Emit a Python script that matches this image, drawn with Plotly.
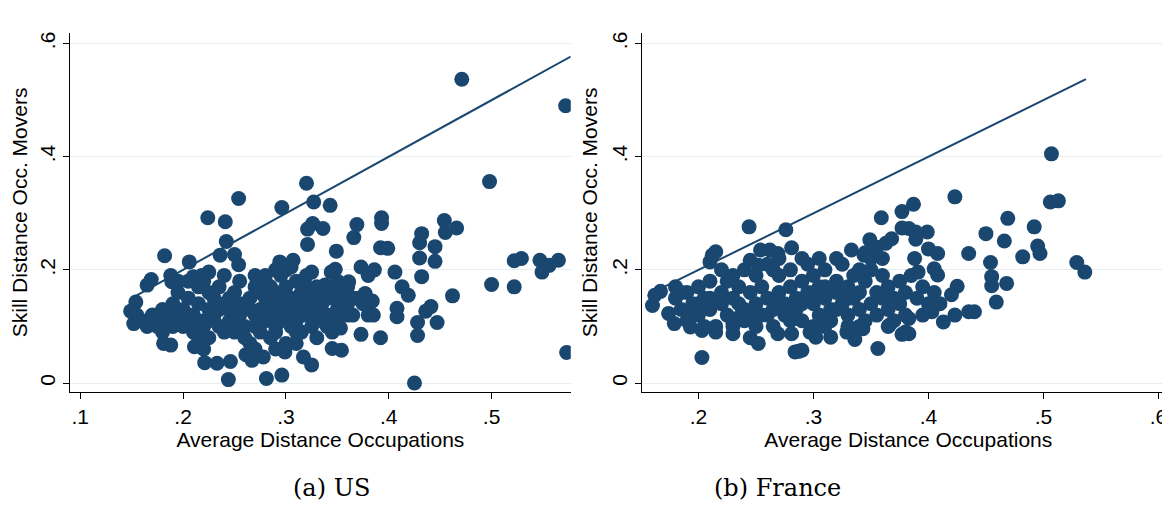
import plotly.graph_objects as go

# US panel: (average distance, skill distance of movers)
us_points = [
    (0.471, 0.537), (0.572, 0.49), (0.498, 0.356), (0.320, 0.353), (0.254, 0.326),
    (0.296, 0.310), (0.327, 0.320), (0.343, 0.314), (0.224, 0.292), (0.241, 0.285),
    (0.393, 0.292), (0.393, 0.282), (0.369, 0.280), (0.454, 0.287), (0.466, 0.274),
    (0.455, 0.266), (0.432, 0.264), (0.430, 0.248), (0.445, 0.241), (0.366, 0.257),
    (0.326, 0.282), (0.321, 0.272), (0.336, 0.273), (0.321, 0.245), (0.349, 0.233),
    (0.242, 0.250), (0.236, 0.226), (0.250, 0.227), (0.254, 0.209), (0.206, 0.214),
    (0.182, 0.225), (0.392, 0.239), (0.399, 0.238), (0.430, 0.221), (0.445, 0.215),
    (0.406, 0.196), (0.432, 0.188), (0.522, 0.216), (0.529, 0.220), (0.547, 0.217),
    (0.549, 0.196), (0.556, 0.208), (0.565, 0.217), (0.500, 0.174), (0.522, 0.170),
    (0.462, 0.154), (0.447, 0.107), (0.428, 0.107), (0.428, 0.084), (0.425, 0.000),
    (0.573, 0.054), (0.392, 0.080), (0.373, 0.086), (0.441, 0.135), (0.436, 0.127),
    (0.408, 0.132), (0.408, 0.117), (0.413, 0.170), (0.419, 0.155), (0.384, 0.145),
    (0.377, 0.158), (0.373, 0.205), (0.380, 0.190), (0.386, 0.200), (0.361, 0.179),
    (0.353, 0.097), (0.345, 0.061), (0.354, 0.058), (0.325, 0.032), (0.317, 0.046),
    (0.296, 0.014), (0.281, 0.008), (0.244, 0.006), (0.221, 0.036), (0.233, 0.035),
    (0.246, 0.038), (0.267, 0.040), (0.261, 0.050), (0.278, 0.046), (0.299, 0.055),
    (0.181, 0.070), (0.188, 0.067), (0.211, 0.064), (0.220, 0.060), (0.154, 0.143),
    (0.149, 0.127), (0.152, 0.105), (0.165, 0.173), (0.169, 0.183), (0.188, 0.190),
    (0.189, 0.179), (0.225, 0.196), (0.218, 0.190), (0.210, 0.188), (0.294, 0.214),
    (0.307, 0.217), (0.305, 0.205), (0.325, 0.196), (0.348, 0.201), (0.344, 0.196),
    (0.338, 0.173), (0.349, 0.167),
    (0.16, 0.11), (0.17, 0.12), (0.175, 0.10), (0.18, 0.13), (0.185, 0.11),
    (0.19, 0.14), (0.19, 0.12), (0.195, 0.16), (0.20, 0.10), (0.20, 0.13),
    (0.205, 0.15), (0.21, 0.12), (0.21, 0.09), (0.215, 0.17), (0.215, 0.14),
    (0.22, 0.11), (0.22, 0.18), (0.225, 0.13), (0.225, 0.08), (0.23, 0.15),
    (0.23, 0.12), (0.235, 0.10), (0.235, 0.17), (0.24, 0.14), (0.24, 0.19),
    (0.245, 0.11), (0.245, 0.13), (0.25, 0.16), (0.25, 0.09), (0.255, 0.12),
    (0.255, 0.18), (0.26, 0.14), (0.26, 0.10), (0.265, 0.15), (0.265, 0.07),
    (0.27, 0.12), (0.27, 0.17), (0.27, 0.19), (0.275, 0.13), (0.275, 0.09),
    (0.28, 0.15), (0.28, 0.11), (0.28, 0.18), (0.285, 0.12), (0.285, 0.14),
    (0.285, 0.08), (0.29, 0.16), (0.29, 0.10), (0.29, 0.13), (0.295, 0.19),
    (0.295, 0.11), (0.30, 0.14), (0.30, 0.12), (0.30, 0.17), (0.30, 0.07),
    (0.305, 0.15), (0.305, 0.10), (0.31, 0.13), (0.31, 0.18), (0.31, 0.11),
    (0.315, 0.16), (0.315, 0.09), (0.32, 0.14), (0.32, 0.12), (0.32, 0.19),
    (0.325, 0.15), (0.325, 0.10), (0.33, 0.13), (0.33, 0.17), (0.335, 0.11),
    (0.335, 0.14), (0.34, 0.16), (0.34, 0.12), (0.345, 0.09), (0.345, 0.15),
    (0.35, 0.13), (0.35, 0.11), (0.355, 0.16), (0.36, 0.12), (0.36, 0.14),
    (0.365, 0.12), (0.37, 0.15), (0.375, 0.14), (0.38, 0.12), (0.385, 0.12),
    (0.29, 0.06), (0.27, 0.06), (0.31, 0.07), (0.26, 0.08), (0.24, 0.09),
    (0.22, 0.10), (0.18, 0.09), (0.175, 0.12), (0.165, 0.10), (0.155, 0.12),
    (0.30, 0.20), (0.29, 0.20), (0.28, 0.19), (0.32, 0.17), (0.31, 0.15),
    (0.33, 0.12), (0.34, 0.10), (0.265, 0.13), (0.255, 0.14), (0.245, 0.15),
    (0.235, 0.13), (0.275, 0.16), (0.295, 0.15), (0.305, 0.13), (0.315, 0.12),
    (0.325, 0.13), (0.335, 0.16), (0.285, 0.17), (0.27, 0.10), (0.29, 0.09),
    (0.31, 0.09), (0.33, 0.08), (0.25, 0.11), (0.23, 0.11), (0.21, 0.11),
    (0.20, 0.12), (0.19, 0.10), (0.355, 0.14), (0.365, 0.15), (0.36, 0.17),
    (0.35, 0.18), (0.215, 0.08), (0.205, 0.18), (0.195, 0.18), (0.225, 0.16),
]

fr_points = [
    (0.507, 0.405), (0.506, 0.320), (0.513, 0.322), (0.423, 0.329), (0.387, 0.316),
    (0.377, 0.303), (0.359, 0.292), (0.469, 0.291), (0.492, 0.276), (0.450, 0.264),
    (0.466, 0.251), (0.495, 0.242), (0.497, 0.229), (0.435, 0.229), (0.482, 0.223),
    (0.454, 0.213), (0.529, 0.213), (0.536, 0.196), (0.455, 0.188), (0.455, 0.172),
    (0.468, 0.176), (0.459, 0.143), (0.435, 0.126), (0.440, 0.126), (0.423, 0.120),
    (0.413, 0.108), (0.425, 0.171), (0.420, 0.156), (0.410, 0.140), (0.399, 0.267),
    (0.400, 0.237), (0.408, 0.229), (0.408, 0.191), (0.405, 0.202), (0.377, 0.274),
    (0.383, 0.273), (0.389, 0.267), (0.389, 0.254), (0.368, 0.255), (0.363, 0.247),
    (0.349, 0.253), (0.333, 0.235), (0.344, 0.226), (0.388, 0.220), (0.391, 0.196),
    (0.383, 0.087), (0.377, 0.086), (0.356, 0.061), (0.336, 0.077), (0.315, 0.081),
    (0.287, 0.056), (0.290, 0.058), (0.284, 0.055), (0.281, 0.087), (0.269, 0.087),
    (0.252, 0.070), (0.245, 0.080), (0.203, 0.045), (0.244, 0.276), (0.276, 0.271),
    (0.281, 0.239), (0.212, 0.226), (0.215, 0.232), (0.210, 0.214), (0.160, 0.137),
    (0.162, 0.155), (0.167, 0.162), (0.174, 0.123), (0.179, 0.105), (0.193, 0.099),
    (0.203, 0.093), (0.215, 0.090), (0.230, 0.087), (0.230, 0.105), (0.237, 0.120),
    (0.297, 0.090), (0.302, 0.081), (0.343, 0.096), (0.329, 0.090), (0.366, 0.102),
    (0.383, 0.114), (0.403, 0.126), (0.254, 0.235), (0.262, 0.235), (0.269, 0.229),
    (0.245, 0.217), (0.252, 0.208),
    (0.18, 0.15), (0.185, 0.13), (0.19, 0.16), (0.19, 0.11), (0.195, 0.14),
    (0.20, 0.17), (0.20, 0.12), (0.205, 0.15), (0.21, 0.13), (0.21, 0.18),
    (0.215, 0.10), (0.22, 0.16), (0.22, 0.14), (0.225, 0.12), (0.23, 0.19),
    (0.23, 0.15), (0.235, 0.17), (0.24, 0.13), (0.24, 0.11), (0.245, 0.16),
    (0.25, 0.14), (0.25, 0.19), (0.255, 0.12), (0.255, 0.17), (0.26, 0.15),
    (0.26, 0.21), (0.265, 0.13), (0.265, 0.10), (0.27, 0.16), (0.27, 0.19),
    (0.275, 0.14), (0.275, 0.12), (0.28, 0.17), (0.28, 0.20), (0.285, 0.15),
    (0.285, 0.13), (0.29, 0.18), (0.29, 0.11), (0.295, 0.16), (0.295, 0.21),
    (0.30, 0.14), (0.30, 0.19), (0.305, 0.12), (0.305, 0.17), (0.31, 0.15),
    (0.31, 0.20), (0.315, 0.13), (0.315, 0.11), (0.32, 0.18), (0.32, 0.16),
    (0.325, 0.14), (0.325, 0.21), (0.33, 0.12), (0.33, 0.17), (0.335, 0.15),
    (0.335, 0.19), (0.34, 0.13), (0.34, 0.16), (0.345, 0.11), (0.345, 0.18),
    (0.35, 0.14), (0.35, 0.20), (0.355, 0.16), (0.355, 0.12), (0.36, 0.15),
    (0.36, 0.19), (0.365, 0.13), (0.365, 0.17), (0.37, 0.15), (0.37, 0.11),
    (0.375, 0.18), (0.375, 0.14), (0.38, 0.16), (0.38, 0.12), (0.385, 0.19),
    (0.39, 0.15), (0.395, 0.17), (0.40, 0.14), (0.405, 0.16), (0.395, 0.12),
    (0.20, 0.14), (0.21, 0.15), (0.225, 0.18), (0.235, 0.14), (0.245, 0.12),
    (0.25, 0.10), (0.26, 0.12), (0.27, 0.14), (0.28, 0.11), (0.29, 0.14),
    (0.30, 0.16), (0.31, 0.17), (0.32, 0.13), (0.33, 0.15), (0.34, 0.20),
    (0.35, 0.22), (0.36, 0.22), (0.355, 0.24), (0.345, 0.23), (0.32, 0.22),
    (0.305, 0.22), (0.29, 0.22), (0.27, 0.22), (0.265, 0.20), (0.24, 0.20),
    (0.22, 0.20), (0.23, 0.10), (0.205, 0.10), (0.195, 0.12), (0.185, 0.16),
    (0.18, 0.17), (0.33, 0.10), (0.34, 0.10), (0.31, 0.10), (0.30, 0.10),
    (0.365, 0.10), (0.38, 0.09),
]

us_x = [p[0] for p in us_points]
us_y = [p[1] for p in us_points]
fr_x = [p[0] for p in fr_points]
fr_y = [p[1] for p in fr_points]

# 45-degree reference lines
us_line_x = [0.15, 0.577]
fr_line_x = [0.17, 0.537]

NAVY = '#1a476f'

fig = go.Figure()
fig.add_trace(go.Scatter(x=us_x, y=us_y, mode='markers', xaxis='x', yaxis='y',
                         marker=dict(color=NAVY, size=15, line=dict(width=0))))
fig.add_trace(go.Scatter(x=us_line_x, y=us_line_x, mode='lines', xaxis='x', yaxis='y',
                         line=dict(color=NAVY, width=2)))
fig.add_trace(go.Scatter(x=fr_x, y=fr_y, mode='markers', xaxis='x2', yaxis='y2',
                         marker=dict(color=NAVY, size=15, line=dict(width=0))))
fig.add_trace(go.Scatter(x=fr_line_x, y=fr_line_x, mode='lines', xaxis='x2', yaxis='y2',
                         line=dict(color=NAVY, width=2)))

axis_font = dict(family='Liberation Sans, Arial', size=21, color='black')
xcommon = dict(showline=True, linecolor='black', linewidth=1, ticks='outside',
               ticklen=6, tickcolor='black', showgrid=False, zeroline=False,
               tickfont=axis_font, title_font=axis_font, title_standoff=2)
ycommon = dict(showline=True, linecolor='black', linewidth=1, ticks='outside',
               ticklen=6, tickcolor='black', showgrid=True, gridcolor='#e6eef0',
               zeroline=False, tickfont=axis_font, title_font=axis_font,
               tickangle=-90, tickvals=[0, 0.2, 0.4, 0.6],
               ticktext=['0', '.2', '.4', '.6'], range=[-0.016, 0.619],
               title_text='Skill Distance Occ. Movers', title_standoff=4)

fig.update_layout(
    width=1170, height=506,
    margin=dict(l=0, r=0, t=0, b=0),
    paper_bgcolor='white', plot_bgcolor='white',
    showlegend=False,
    xaxis=dict(xcommon, domain=[0.053, 0.481], range=[0.090, 0.577], anchor='y',
               tickvals=[0.1, 0.2, 0.3, 0.4, 0.5], ticktext=['.1', '.2', '.3', '.4', '.5'],
               title_text='Average Distance Occupations'),
    yaxis=dict(ycommon, domain=[0.241, 0.951], anchor='x'),
    xaxis2=dict(xcommon, domain=[0.542, 0.997], range=[0.151, 0.614], anchor='y2',
                tickvals=[0.2, 0.3, 0.4, 0.5, 0.6], ticktext=['.2', '.3', '.4', '.5', '.6'],
                title_text='Average Distance Occupations'),
    yaxis2=dict(ycommon, domain=[0.241, 0.951], anchor='x2'),
    annotations=[
        dict(text='(a) US', x=0.242, y=0.02, xref='paper', yref='paper',
             showarrow=False, font=dict(family='DejaVu Serif', size=24, color='black')),
        dict(text='(b) France', x=0.714, y=0.02, xref='paper', yref='paper',
             showarrow=False, font=dict(family='DejaVu Serif', size=24, color='black')),
    ],
)

fig.write_html("out.html")
